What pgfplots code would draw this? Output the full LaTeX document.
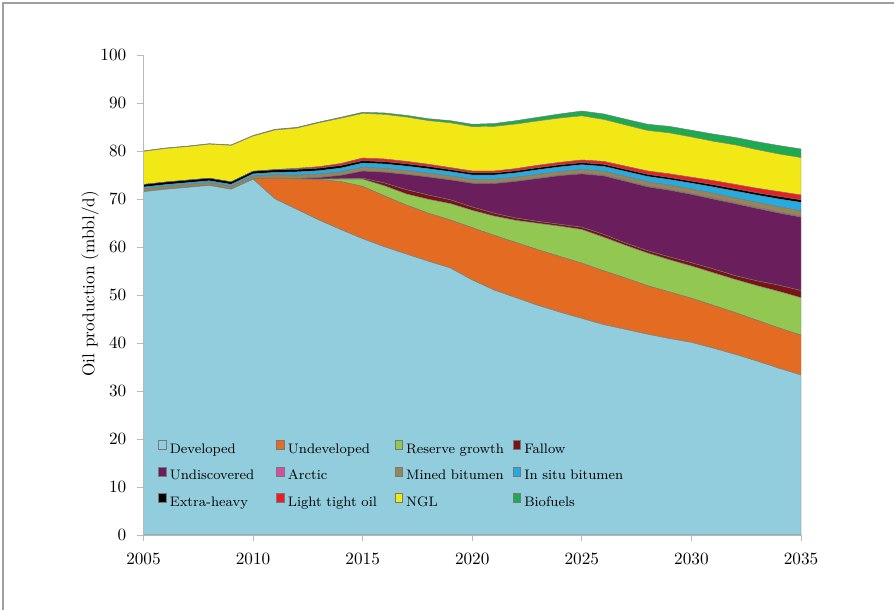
\documentclass[border=0pt]{standalone}
\usepackage{fontspec}
\usepackage{pgfplots}
\usepackage{pgfplotstable}
\pgfplotsset{compat=1.18}
\definecolor{cDev}{RGB}{146,205,222}
\definecolor{cUnd}{RGB}{228,108,34}
\definecolor{cRG}{RGB}{146,200,82}
\definecolor{cFal}{RGB}{122,18,22}
\definecolor{cUD}{RGB}{106,30,92}
\definecolor{cArc}{RGB}{210,80,160}
\definecolor{cMB}{RGB}{148,134,86}
\definecolor{cIS}{RGB}{38,170,226}
\definecolor{cXH}{RGB}{0,0,0}
\definecolor{cLTO}{RGB}{237,28,36}
\definecolor{cNGL}{RGB}{242,232,22}
\definecolor{cBio}{RGB}{30,170,80}
\definecolor{edge}{RGB}{120,120,120}
\pgfplotstableread{
year D U RG F UD A MB IS XH LTO NGL BIO
2005 71.5 0 0 0 0 0 0.6 0.35 0.55 0 6.9 0.1
2006 72.0 0 0 0 0 0 0.6 0.35 0.55 0 7.0 0.1
2007 72.4 0 0 0 0 0 0.6 0.35 0.55 0 7.0 0.1
2008 72.8 0 0 0 0 0 0.6 0.35 0.55 0 7.1 0.1
2009 72.0 0 0 0 0 0 0.6 0.4 0.55 0 7.6 0.1
2010 74.1 0 0 0 0 0 0.65 0.45 0.55 0 7.35 0.1
2011 70.0 4.3 0 0 0 0 0.7 0.5 0.55 0.05 8.25 0.15
2012 67.8 6.3 0 0 0.15 0 0.7 0.65 0.55 0.2 8.4 0.15
2013 65.6 8.4 0.1 0 0.35 0 0.7 0.7 0.55 0.3 9.15 0.15
2014 63.6 10.0 0.5 0.1 0.7 0 0.7 0.8 0.55 0.4 9.45 0.2
2015 61.7 10.9 1.5 0.2 1.5 0 0.75 0.9 0.5 0.55 9.3 0.25
2016 60.0 10.6 2.1 0.6 2.25 0.05 0.75 0.9 0.5 0.55 9.3 0.3
2017 58.5 10.2 2.3 0.9 3.2 0.05 0.75 0.9 0.5 0.5 9.25 0.35
2018 57.0 10.0 2.9 0.9 3.75 0.05 0.75 0.9 0.5 0.45 9.1 0.4
2019 55.6 10.0 3.4 0.8 4.15 0.05 0.75 0.9 0.45 0.4 9.35 0.45
2020 53.1 10.9 3.6 0.7 4.95 0.05 0.75 0.9 0.45 0.4 9.25 0.5
2021 51.0 11.4 4.0 0.6 6.2 0.1 0.75 0.9 0.45 0.4 9.3 0.6
2022 49.4 11.5 4.6 0.5 7.65 0.1 0.75 0.9 0.45 0.45 9.3 0.7
2023 47.8 11.6 5.5 0.4 8.95 0.1 0.75 0.95 0.45 0.5 9.25 0.75
2024 46.4 11.6 6.3 0.4 10.15 0.1 0.75 0.95 0.45 0.5 9.25 0.85
2025 45.1 11.5 7.0 0.5 11.1 0.1 0.8 1.0 0.45 0.55 9.2 1.0
2026 43.8 11.2 7.0 0.6 12.2 0.15 0.8 1.0 0.45 0.6 8.75 1.15
2027 42.8 10.7 6.8 0.5 12.85 0.15 0.85 1.05 0.45 0.65 8.6 1.2
2028 41.8 10.1 6.8 0.5 13.3 0.15 0.9 1.1 0.45 0.7 8.45 1.3
2029 40.9 9.7 6.7 0.6 13.9 0.15 0.9 1.15 0.45 0.75 8.55 1.35
2030 40.1 9.2 6.7 0.7 14.25 0.15 0.95 1.2 0.45 0.8 8.4 1.4
2031 38.9 8.9 6.8 0.8 14.55 0.2 1.0 1.3 0.5 0.85 8.2 1.5
2032 37.6 8.7 6.9 0.8 15.0 0.2 1.0 1.4 0.5 0.9 8.25 1.55
2033 36.2 8.5 7.2 1.0 15.1 0.2 1.05 1.5 0.5 0.95 8.05 1.65
2034 34.7 8.4 7.6 1.3 15.05 0.2 1.1 1.6 0.55 1.0 7.85 1.75
2035 33.3 8.3 7.8 1.5 15.3 0.2 1.1 1.75 0.55 1.0 7.8 1.8
}\data
\begin{document}
\begin{tikzpicture}
\path[use as bounding box] (0,0) rectangle (519.8pt,354.6pt);
\draw[gray!75, line width=0.9pt] (1.7pt,0) -- (1.7pt,352.9pt) -- (519.8pt,352.9pt);
\begin{axis}[
  at={(83.43pt,43.6pt)}, anchor=south west,
  scale only axis, width=382.3pt, height=279.1pt,
  xmin=2005, xmax=2035, ymin=0, ymax=100,
  xtick={2005,2010,...,2035}, ytick={0,10,...,100},
  axis x line*=bottom, axis y line*=left,
  axis line style={gray!55, line width=0.4pt},
  tick style={gray!55, line width=0.4pt},
  tick align=outside, major tick length=3.5pt,
  x tick label style={/pgf/number format/1000 sep={}, yshift=-4pt},
  y tick label style={xshift=-3pt},
  ylabel={Oil production (mbbl/d)},
  ylabel style={at={(axis description cs:-0.0814,0.523)}, anchor=center},
  stack plots=y, area style,
  every axis plot/.append style={draw=edge, line width=0.25pt},
  legend image code/.code={\draw[#1, draw=edge, line width=0.3pt] (0pt,0pt) rectangle (4.2pt,5.2pt);},
  legend columns=4,
  legend cell align=left,
  legend style={at={(rel axis cs:0.022,0.198)}, anchor=north west, draw=none, fill=none,
    inner sep=0pt, font=\fontsize{8}{9.6}\selectfont, row sep=5.4pt,
    nodes={inner sep=1pt, text height=5.8pt, text depth=1.6pt, text width=61pt, align=left},
    /tikz/every odd column/.append style={column sep=1.2pt},
    /tikz/every even column/.append style={column sep=0pt}},
]
\addplot[fill=cDev] table[x=year,y=D]{\data} \closedcycle;
\addlegendentry{Developed}
\addplot[fill=cUnd] table[x=year,y=U]{\data} \closedcycle;
\addlegendentry{Undeveloped}
\addplot[fill=cRG] table[x=year,y=RG]{\data} \closedcycle;
\addlegendentry{Reserve growth}
\addplot[fill=cFal] table[x=year,y=F]{\data} \closedcycle;
\addlegendentry{Fallow}
\addplot[fill=cUD] table[x=year,y=UD]{\data} \closedcycle;
\addlegendentry{Undiscovered}
\addplot[fill=cArc] table[x=year,y=A]{\data} \closedcycle;
\addlegendentry{Arctic}
\addplot[fill=cMB] table[x=year,y=MB]{\data} \closedcycle;
\addlegendentry{Mined bitumen}
\addplot[fill=cIS] table[x=year,y=IS]{\data} \closedcycle;
\addlegendentry{In situ bitumen}
\addplot[fill=cXH] table[x=year,y=XH]{\data} \closedcycle;
\addlegendentry{Extra-heavy}
\addplot[fill=cLTO] table[x=year,y=LTO]{\data} \closedcycle;
\addlegendentry{Light tight oil}
\addplot[fill=cNGL] table[x=year,y=NGL]{\data} \closedcycle;
\addlegendentry{NGL}
\addplot[fill=cBio] table[x=year,y=BIO]{\data} \closedcycle;
\addlegendentry{Biofuels}
\end{axis}
\end{tikzpicture}
\end{document}
